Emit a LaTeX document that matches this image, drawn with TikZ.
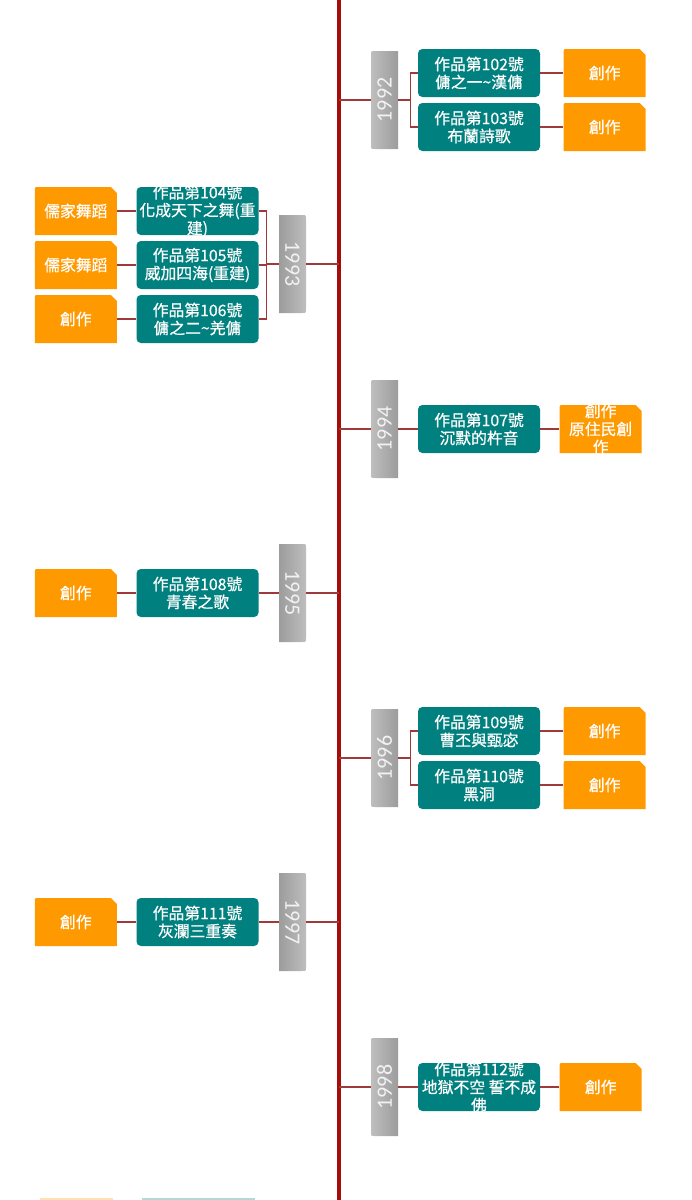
\documentclass[tikz,border=0pt]{standalone}
\usepackage{fontspec}
\setmainfont{Noto Sans CJK TC}
\newfontfamily\boxfont{Noto Sans CJK TC}[FakeBold=0.6]
\newfontfamily\yearfont{Carlito}
\usepackage{tikz}
\usetikzlibrary{positioning,backgrounds}
\definecolor{spinered}{HTML}{A50D0D}
\definecolor{linkred}{HTML}{9E3A3A}
\definecolor{workteal}{HTML}{00807E}
\definecolor{tagorange}{HTML}{FF9900}
\definecolor{yeardark}{HTML}{9C9C9C}
\definecolor{yearlight}{HTML}{BEBEBE}
\definecolor{yeartext}{HTML}{F2F2F2}
% shapes behind the nodes, sizes in px
\newcommand{\workshape}[1]{\fill[workteal, rounded corners=2.5pt] ([shift={(-61,-24)}]#1.center) rectangle ([shift={(61,24)}]#1.center);}
\newcommand{\tagshape}[1]{\fill[tagorange] ([shift={(-41,24)}]#1.center) -- ([shift={(-41,-20)}]#1.center) .. controls ([shift={(-41,-24)}]#1.center) .. ([shift={(-37,-24)}]#1.center) -- ([shift={(35,-24)}]#1.center) -- ([shift={(41,-18)}]#1.center) -- ([shift={(41,24)}]#1.center) -- cycle;}
\newcommand{\yearleft}[1]{\shade[left color=yeardark, right color=yearlight] ([shift={(-13.5,-49)}]#1.center) -- ([shift={(9.5,-49)}]#1.center) .. controls ([shift={(13.5,-49)}]#1.center) .. ([shift={(13.5,-45)}]#1.center) -- ([shift={(13.5,45)}]#1.center) .. controls ([shift={(13.5,49)}]#1.center) .. ([shift={(9.5,49)}]#1.center) -- ([shift={(-13.5,49)}]#1.center) -- cycle;}
\newcommand{\yearright}[1]{\shade[left color=yearlight, right color=yeardark] ([shift={(13.5,-49)}]#1.center) -- ([shift={(-9.5,-49)}]#1.center) .. controls ([shift={(-13.5,-49)}]#1.center) .. ([shift={(-13.5,-45)}]#1.center) -- ([shift={(-13.5,45)}]#1.center) .. controls ([shift={(-13.5,49)}]#1.center) .. ([shift={(-9.5,49)}]#1.center) -- ([shift={(13.5,49)}]#1.center) -- cycle;}

\begin{document}
\begin{tikzpicture}[x=0.02cm, y=-0.02cm,
  work/.style={minimum width=2.44cm, minimum height=0.96cm, inner sep=0pt, align=center, text=white, font=\boxfont\fontsize{9}{10.2}\selectfont},
  tag/.style={minimum width=1.64cm, minimum height=0.96cm, inner sep=0pt, align=center, text=white, font=\boxfont\fontsize{9}{10.2}\selectfont},
  year/.style={minimum width=0.54cm, minimum height=1.96cm, inner sep=0pt, text=yeartext, font=\yearfont\fontsize{12.5}{13}\selectfont},
  link/.style={draw=linkred, line width=0.65pt}]
\useasboundingbox (0,0) rectangle (691,1200);
\coordinate (top) at (339,0);
\coordinate (bot) at (339,1200);

% years
\node[year] (y1992) at (384.5,100) {\rotatebox{90}{1992}};
\node[year] (y1993) at (292.5,264) {\rotatebox{-90}{1993}};
\node[year] (y1994) at (384.5,429) {\rotatebox{90}{1994}};
\node[year] (y1995) at (292.5,593) {\rotatebox{-90}{1995}};
\node[year] (y1996) at (384.5,758) {\rotatebox{90}{1996}};
\node[year] (y1997) at (292.5,922) {\rotatebox{-90}{1997}};
\node[year] (y1998) at (384.5,1087) {\rotatebox{90}{1998}};

% works
\node[work] (p102) at (479,73) {作品第102號\\傭之一\textasciitilde 漢傭};
\node[work] (p103) at (479,127) {作品第103號\\布蘭詩歌};
\node[work] (p104) at (197.5,211) {作品第104號\\化成天下之舞(重\\建)};
\node[work] (p105) at (197.5,265) {作品第105號\\威加四海(重建)};
\node[work] (p106) at (197.5,319) {作品第106號\\傭之二\textasciitilde 羌傭};
\node[work] (p107) at (479,429) {作品第107號\\沉默的杵音};
\node[work] (p108) at (197.5,593) {作品第108號\\青春之歌};
\node[work] (p109) at (479,731) {作品第109號\\曹丕與甄宓};
\node[work] (p110) at (479,785) {作品第110號\\黑洞};
\node[work] (p111) at (197.5,922) {作品第111號\\灰瀾三重奏};
\node[work] (p112) at (479,1087) {作品第112號\\地獄不空 誓不成\\佛};

% tags
\node[tag, right=0.46cm of p102] (t102) {創作};
\node[tag, right=0.46cm of p103] (t103) {創作};
\node[tag, left=0.38cm of p104] (t104) {儒家舞蹈};
\node[tag, left=0.38cm of p105] (t105) {儒家舞蹈};
\node[tag, left=0.38cm of p106] (t106) {創作};
\node[tag, right=0.38cm of p107] (t107) {創作\\原住民創\\作};
\node[tag, left=0.38cm of p108] (t108) {創作};
\node[tag, right=0.46cm of p109] (t109) {創作};
\node[tag, right=0.46cm of p110] (t110) {創作};
\node[tag, left=0.38cm of p111] (t111) {創作};
\node[tag, right=0.38cm of p112] (t112) {創作};

\begin{scope}[on background layer]
 \fill[white] (0,0) rectangle (691,1200);
 \foreach \n in {p102,p103,p104,p105,p106,p107,p108,p109,p110,p111,p112} {\workshape{\n}}
 \foreach \n in {t102,t103,t104,t105,t106,t107,t108,t109,t110,t111,t112} {\tagshape{\n}}
 \foreach \n in {y1992,y1994,y1996,y1998} {\yearright{\n}}
 \foreach \n in {y1993,y1995,y1997} {\yearleft{\n}}
 % next year, cut off at the bottom
 \fill[tagorange, opacity=0.3] (40,1198) rectangle (113,1200);
 \fill[workteal, opacity=0.3] (142,1198) rectangle (255,1200);
\end{scope}

% spine and links
\draw[color=spinered, line width=2pt] (top) -- (bot);
\foreach \y in {y1992,y1994,y1996,y1998} {\draw[link] (\y.west) -- (\y.west -| top);}
\foreach \y in {y1993,y1995,y1997} {\draw[link] (\y.east) -- (\y.east -| top);}
\draw[link] (y1992.east) -- ++(12,0) |- (p102.west);
\draw[link] (y1992.east) -- ++(12,0) |- (p103.west);
\draw[link] (y1993.west) -- ++(-12,0) |- (p104.east);
\draw[link] (y1993.west) -- ++(-12,0) |- (p105.east);
\draw[link] (y1993.west) -- ++(-12,0) |- (p106.east);
\draw[link] (y1994.east) -- (p107.west);
\draw[link] (y1995.west) -- (p108.east);
\draw[link] (y1996.east) -- ++(12,0) |- (p109.west);
\draw[link] (y1996.east) -- ++(12,0) |- (p110.west);
\draw[link] (y1997.west) -- (p111.east);
\draw[link] (y1998.east) -- (p112.west);
\foreach \p/\t in {p102/t102,p103/t103,p107/t107,p109/t109,p110/t110,p112/t112} {\draw[link] (\p.east) -- (\t.west);}
\foreach \p/\t in {p104/t104,p105/t105,p106/t106,p108/t108,p111/t111} {\draw[link] (\p.west) -- (\t.east);}
\end{tikzpicture}
\end{document}
